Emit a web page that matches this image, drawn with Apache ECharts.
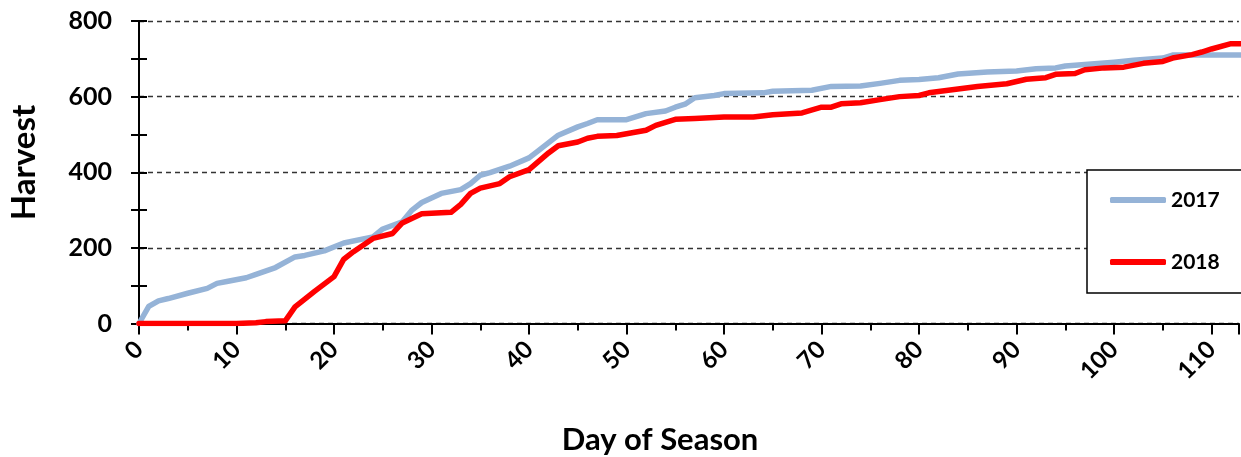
<!DOCTYPE html>
<html>
<head>
<meta charset="utf-8">
<script src="https://cdn.jsdelivr.net/npm/echarts@6/dist/echarts.min.js"></script>
<style>
html,body{margin:0;padding:0;background:#fff;}
#chart{width:1241px;height:457px;}
</style>
</head>
<body>
<div id="chart"></div>
<script>
const days2017 = [0,1,2,3,5,7,8,9,11,12,14,16,17,19,21,24,25,27,28,29,31,33,34,35,36,38,40,41,43,45,46,47,50,52,54,55,56,57,59,60,64,65,69,71,74,76,78,80,82,84,87,90,92,94,95,100,102,105,106,113];
const harvest2017 = [0,45,60,66,80,93,106,111,121,130,148,176,180,192,213,229,250,269,300,320,344,354,370,392,399,416,438,458,498,520,529,539,539,555,562,572,580,597,603,608,610,614,617,627,628,635,643,645,650,660,665,668,674,676,681,691,696,702,710,710];
const days2018 = [0,10,12,13,15,16,18,20,21,22,24,26,27,29,32,33,34,35,37,38,40,42,43,45,46,47,49,52,53,55,57,60,63,65,68,70,71,72,74,76,78,80,81,84,86,89,91,93,94,96,97,99,101,103,105,106,108,109,110,112,113];
const harvest2018 = [0,0,2,5,7,44,85,124,170,190,225,238,266,290,294,315,344,358,370,388,407,451,470,480,490,495,497,511,524,540,542,546,546,552,557,572,572,581,584,592,600,603,610,620,627,634,646,650,659,661,671,676,678,688,693,702,711,718,726,740,740];
const seriesNames = ['2017','2018'];
const xTitle = 'Day of Season';
const yTitle = 'Harvest';

const FONT = 'Lato, "Open Sans", sans-serif';
const chart = echarts.init(document.getElementById('chart'), null, {renderer:'canvas'});
const XMAX = 112.8;
const opt = {
  animation: false,
  backgroundColor: '#fff',
  grid: {left:139, top:21, right:0, bottom:133.5, containLabel:false},
  graphic: [
    {type:'text', position:[660,440], rotation:0,
     style:{text:xTitle, x:0, y:0, fill:'#000', align:'center', verticalAlign:'middle',
            font:'bold 31px ' + FONT}},
    {type:'text', position:[24,162.5], rotation:Math.PI/2,
     style:{text:yTitle, x:0, y:0, fill:'#000', align:'center', verticalAlign:'middle',
            font:'bold 33px ' + FONT}}
  ],
  legend: {
    orient:'vertical', left:1087, top:170,
    data: seriesNames,
    icon:'roundRect',
    itemWidth:56, itemHeight:6, itemGap:41,
    padding:[19.5,40,20.5,23],
    backgroundColor:'#fff', borderColor:'#000', borderWidth:1.5, borderRadius:0,
    textStyle:{fontFamily:FONT, fontWeight:'bold', fontSize:21, color:'#000'}
  },
  xAxis: [{
    type:'value', min:0, max:XMAX, interval:10,
    axisLine:{show:true, onZero:false, lineStyle:{color:'#000', width:2}},
    axisTick:{show:true, length:11, lineStyle:{color:'#000', width:2}},
    axisLabel:{rotate:45, margin:22, fontFamily:FONT, fontWeight:'bold', fontSize:24, color:'#000',
      formatter: v => (Math.abs(v % 10) < 1e-6 ? String(v) : '')},
    splitLine:{show:false}
  },{
    type:'value', min:0, max:XMAX, interval:5, position:'bottom',
    axisLine:{show:false}, axisLabel:{show:false}, splitLine:{show:false},
    axisTick:{show:true, length:7, lineStyle:{color:'#000', width:2}}
  }],
  yAxis: [{
    type:'value', min:0, max:800, interval:200,
    axisLine:{show:true, onZero:false, lineStyle:{color:'#000', width:2}},
    axisTick:{show:true, length:8, lineStyle:{color:'#000', width:2}},
    minorTick:{show:true, splitNumber:2, length:8, lineStyle:{color:'#000', width:2}},
    axisLabel:{margin:27, fontFamily:FONT, fontWeight:'bold', fontSize:25, color:'#000'},
    splitLine:{show:true, lineStyle:{color:'#333', width:1.4, type:[5,4]}}
  },{
    type:'value', min:0, max:800, interval:200, position:'left', offset:0,
    axisLine:{show:false}, axisLabel:{show:false}, splitLine:{show:false},
    axisTick:{show:true, inside:true, length:8, lineStyle:{color:'#000', width:2}},
    minorTick:{show:true, splitNumber:2, length:8, lineStyle:{color:'#000', width:2}}
  }],
  series: [{
    name: seriesNames[0], type:'line', xAxisIndex:0, yAxisIndex:0,
    data: days2017.map((d,i)=>[d, harvest2017[i]]),
    symbol:'none', color:'#95B3D7',
    lineStyle:{color:'#95B3D7', width:5.5, cap:'round', join:'round'}
  },{
    name: seriesNames[1], type:'line', xAxisIndex:0, yAxisIndex:0,
    data: days2018.map((d,i)=>[d, harvest2018[i]]),
    symbol:'none', color:'#FF0000',
    lineStyle:{color:'#FF0000', width:5.5, cap:'round', join:'round'}
  }]
};
chart.setOption(opt);
</script>
</body>
</html>
